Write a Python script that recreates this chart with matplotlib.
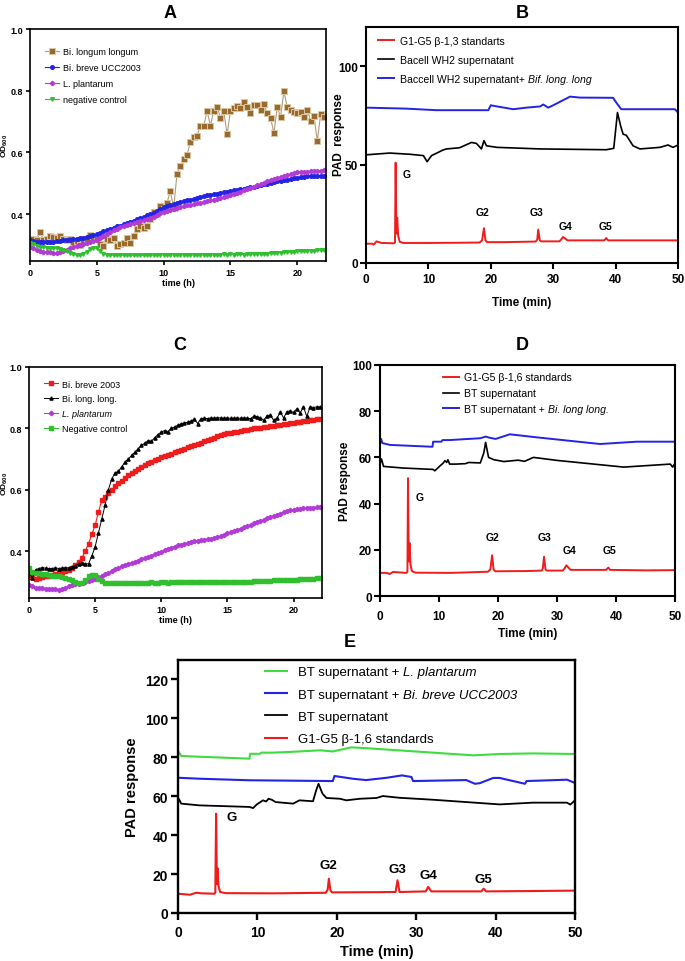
import numpy as np
import matplotlib
matplotlib.use("Agg")
import matplotlib.pyplot as plt

NARROW = ['Liberation Sans Narrow', 'Liberation Sans', 'DejaVu Sans']
ARIAL = ['Liberation Sans', 'DejaVu Sans']
plt.rcParams['font.family'] = ARIAL
plt.rcParams['mathtext.fontset'] = 'custom'
plt.rcParams['mathtext.rm'] = 'Liberation Sans'
plt.rcParams['mathtext.it'] = 'Liberation Sans:italic'
plt.rcParams['mathtext.bf'] = 'Liberation Sans:bold'

# ---------------- growth data (OD600 every 0.25 h, 0-22 h) ----------------
n_pts = 89
time_h = np.arange(n_pts) * 0.25

A_longum = [0.310, 0.318, 0.315, 0.343, 0.317, 0.320, 0.328, 0.326, 0.322, 0.330, 0.320, 0.315,
            0.320, 0.310, 0.314, 0.300, 0.310, 0.318, 0.333, 0.325, 0.318, 0.303, 0.296, 0.318,
            0.315, 0.322, 0.296, 0.303, 0.306, 0.322, 0.306, 0.328, 0.352, 0.361, 0.356, 0.363,
            0.385, 0.406, 0.400, 0.426, 0.415, 0.437, 0.474, 0.420, 0.530, 0.555, 0.578, 0.590,
            0.635, 0.650, 0.654, 0.687, 0.684, 0.735, 0.687, 0.735, 0.747, 0.713, 0.733, 0.659,
            0.733, 0.743, 0.749, 0.745, 0.763, 0.747, 0.727, 0.754, 0.754, 0.737, 0.757, 0.727,
            0.713, 0.662, 0.746, 0.716, 0.798, 0.746, 0.738, 0.730, 0.729, 0.730, 0.715, 0.739,
            0.702, 0.717, 0.637, 0.724, 0.715]
A_breve = [0.317, 0.314, 0.311, 0.310, 0.309, 0.309, 0.310, 0.311, 0.313, 0.314, 0.315, 0.316,
           0.317, 0.318, 0.320, 0.322, 0.324, 0.327, 0.329, 0.332, 0.335, 0.339, 0.344, 0.348,
           0.352, 0.356, 0.360, 0.363, 0.367, 0.371, 0.375, 0.379, 0.383, 0.387, 0.391, 0.396,
           0.400, 0.405, 0.411, 0.417, 0.422, 0.426, 0.430, 0.434, 0.437, 0.440, 0.443, 0.445,
           0.447, 0.450, 0.453, 0.456, 0.459, 0.461, 0.463, 0.464, 0.466, 0.468, 0.471, 0.473,
           0.475, 0.477, 0.479, 0.481, 0.483, 0.485, 0.487, 0.489, 0.491, 0.494, 0.497, 0.499,
           0.502, 0.504, 0.506, 0.508, 0.510, 0.512, 0.514, 0.516, 0.518, 0.520, 0.521, 0.523,
           0.524, 0.524, 0.523, 0.524, 0.524]
A_plant = [0.295, 0.290, 0.285, 0.281, 0.278, 0.277, 0.276, 0.275, 0.275, 0.276, 0.279, 0.284,
           0.289, 0.292, 0.296, 0.299, 0.303, 0.306, 0.309, 0.313, 0.317, 0.322, 0.329, 0.335,
           0.341, 0.347, 0.352, 0.357, 0.361, 0.364, 0.368, 0.371, 0.374, 0.377, 0.381, 0.384,
           0.387, 0.392, 0.397, 0.402, 0.407, 0.410, 0.414, 0.417, 0.420, 0.422, 0.425, 0.428,
           0.430, 0.432, 0.435, 0.437, 0.439, 0.442, 0.445, 0.447, 0.450, 0.453, 0.455, 0.458,
           0.461, 0.465, 0.469, 0.473, 0.477, 0.481, 0.485, 0.489, 0.493, 0.497, 0.502, 0.506,
           0.510, 0.513, 0.517, 0.520, 0.523, 0.526, 0.529, 0.532, 0.535, 0.536, 0.537, 0.538,
           0.539, 0.540, 0.541, 0.541, 0.542]
A_neg = [0.305, 0.302, 0.298, 0.295, 0.292, 0.291, 0.290, 0.290, 0.289, 0.288, 0.285, 0.280,
         0.274, 0.270, 0.267, 0.268, 0.271, 0.278, 0.287, 0.291, 0.289, 0.280, 0.272, 0.268,
         0.267, 0.267, 0.266, 0.267, 0.267, 0.268, 0.267, 0.267, 0.268, 0.266, 0.267, 0.268,
         0.268, 0.267, 0.268, 0.268, 0.269, 0.268, 0.268, 0.269, 0.268, 0.268, 0.269, 0.268,
         0.268, 0.268, 0.269, 0.269, 0.268, 0.269, 0.269, 0.268, 0.269, 0.269, 0.270, 0.269,
         0.270, 0.269, 0.270, 0.270, 0.269, 0.270, 0.270, 0.271, 0.271, 0.271, 0.272, 0.272,
         0.273, 0.274, 0.275, 0.275, 0.276, 0.277, 0.277, 0.278, 0.279, 0.279, 0.280, 0.281,
         0.282, 0.282, 0.283, 0.283, 0.284]

C_breve = [0.324, 0.316, 0.311, 0.313, 0.316, 0.318, 0.320, 0.322, 0.325, 0.328, 0.332, 0.336,
           0.340, 0.346, 0.356, 0.366, 0.378, 0.400, 0.425, 0.455, 0.485, 0.528, 0.566, 0.578,
           0.590, 0.601, 0.611, 0.621, 0.630, 0.639, 0.647, 0.655, 0.662, 0.668, 0.674, 0.680,
           0.686, 0.691, 0.696, 0.701, 0.706, 0.710, 0.714, 0.718, 0.722, 0.726, 0.730, 0.734,
           0.738, 0.742, 0.746, 0.750, 0.754, 0.758, 0.762, 0.766, 0.770, 0.774, 0.778, 0.781,
           0.784, 0.786, 0.788, 0.790, 0.792, 0.794, 0.796, 0.798, 0.800, 0.801, 0.803, 0.804,
           0.806, 0.808, 0.809, 0.811, 0.812, 0.814, 0.815, 0.817, 0.818, 0.820, 0.821, 0.823,
           0.824, 0.826, 0.828, 0.830, 0.832]
C_longum = [0.332, 0.312, 0.340, 0.344, 0.347, 0.345, 0.343, 0.344, 0.346, 0.344, 0.345, 0.347,
            0.346, 0.350, 0.352, 0.360, 0.362, 0.360, 0.359, 0.385, 0.415, 0.460, 0.505, 0.550,
            0.600, 0.635, 0.655, 0.660, 0.675, 0.690, 0.700, 0.712, 0.722, 0.734, 0.745, 0.752,
            0.760, 0.758, 0.770, 0.780, 0.788, 0.793, 0.790, 0.800, 0.805, 0.810, 0.815, 0.818,
            0.820, 0.824, 0.830, 0.816, 0.832, 0.833, 0.832, 0.834, 0.833, 0.835, 0.834, 0.833,
            0.834, 0.833, 0.833, 0.834, 0.833, 0.834, 0.833, 0.832, 0.840, 0.838, 0.835, 0.826,
            0.842, 0.843, 0.826, 0.834, 0.853, 0.834, 0.855, 0.857, 0.852, 0.864, 0.851, 0.870,
            0.839, 0.870, 0.868, 0.870, 0.870]
C_plant = [0.291, 0.286, 0.282, 0.280, 0.279, 0.278, 0.277, 0.276, 0.276, 0.275, 0.276, 0.280,
           0.286, 0.289, 0.292, 0.295, 0.298, 0.301, 0.304, 0.307, 0.311, 0.315, 0.320, 0.325,
           0.330, 0.335, 0.341, 0.346, 0.351, 0.357, 0.360, 0.362, 0.366, 0.370, 0.374, 0.378,
           0.382, 0.386, 0.391, 0.395, 0.399, 0.403, 0.407, 0.411, 0.415, 0.419, 0.422, 0.425,
           0.427, 0.430, 0.432, 0.434, 0.436, 0.437, 0.439, 0.440, 0.442, 0.445, 0.449, 0.453,
           0.458, 0.462, 0.466, 0.470, 0.474, 0.478, 0.482, 0.486, 0.491, 0.495, 0.499, 0.503,
           0.507, 0.511, 0.515, 0.519, 0.523, 0.527, 0.530, 0.533, 0.536, 0.538, 0.539, 0.540,
           0.541, 0.542, 0.542, 0.543, 0.544]
C_neg = [0.345, 0.334, 0.331, 0.329, 0.327, 0.325, 0.323, 0.321, 0.320, 0.318, 0.316, 0.314,
         0.310, 0.305, 0.300, 0.297, 0.298, 0.305, 0.318, 0.322, 0.322, 0.310, 0.302, 0.298,
         0.297, 0.296, 0.297, 0.297, 0.297, 0.298, 0.297, 0.297, 0.298, 0.297, 0.298, 0.298,
         0.298, 0.299, 0.298, 0.298, 0.299, 0.299, 0.298, 0.299, 0.299, 0.299, 0.300, 0.299,
         0.299, 0.300, 0.299, 0.299, 0.299, 0.299, 0.300, 0.299, 0.299, 0.300, 0.300, 0.300,
         0.300, 0.300, 0.300, 0.301, 0.300, 0.301, 0.301, 0.301, 0.302, 0.302, 0.302, 0.303,
         0.304, 0.304, 0.305, 0.305, 0.306, 0.306, 0.307, 0.307, 0.308, 0.308, 0.309, 0.310,
         0.310, 0.311, 0.311, 0.312, 0.313]

# ---------------- chromatograms (time min, PAD response) ----------------
B_red_t = [0, 1.0, 1.2, 1.7, 2.5, 4.5, 4.65, 4.75, 4.88, 5.0, 5.15, 5.4, 6, 10, 15, 18.2, 18.6, 18.9,
           19.15, 19.4, 22, 27.2, 27.45, 27.6, 27.85, 28.1, 31.0, 31.3, 31.55, 31.9, 32.3, 38.2,
           38.5, 38.8, 42, 50]
B_red_v = [9.8, 9.8, 9.3, 11, 10.2, 10, 10.5, 51, 15, 23, 14, 10.8, 10.2, 10.2, 10.3, 10.4, 11.5, 17.7,
           11.5, 10.6, 10.6, 10.9, 12, 17, 11.5, 11, 11, 12, 13.2, 12.5, 11.5, 11.5, 12.7, 11.5, 11.5, 11.5]
B_blk_t = [0, 3.8, 7, 9.2, 9.8, 10.5, 11.8, 12.3, 12.9, 15, 16.9, 17.7, 18.5, 18.9, 19.3, 21, 27.9,
           38.5, 39.7, 40.3, 40.8, 41.2, 41.7, 42.8, 43.9, 47.1, 48.4, 49.2, 50]
B_blk_v = [55, 55.9, 55.3, 54.6, 51.5, 54.6, 56.6, 57.4, 58, 58.6, 61.3, 60.8, 58, 62.2, 59.6, 58.8, 58,
           57.6, 58.3, 76.5, 69.8, 65.5, 65, 59.6, 58, 58.8, 60, 58.8, 60]
B_blu_t = [0, 6.4, 11.3, 19.6, 20.0, 21, 23.6, 25.7, 27.9, 28.4, 29.2, 30, 32.7, 34.3, 39.6, 40.1,
           40.9, 45, 49.5, 50]
B_blu_v = [79, 78.5, 77.7, 77.7, 80.2, 79.6, 78.2, 79, 79.6, 80.6, 79, 80.2, 84.6, 84.1, 84, 81.6,
           78.2, 78.2, 78.2, 76.5]

D_red_t = [0, 1.2, 1.6, 2.2, 4.5, 4.65, 4.75, 4.88, 5.0, 5.15, 5.4, 6, 12, 18.3, 18.7, 19.0, 19.25,
           19.5, 25, 27.4, 27.6, 27.8, 28.05, 28.3, 31.0, 31.3, 31.6, 31.9, 32.3, 38.3, 38.7, 39.0, 45, 50]
D_red_v = [10, 10, 9.5, 10.4, 10, 10.5, 51, 15, 23, 14, 10.8, 10.1, 10, 10.5, 11.5, 17.6, 11.5,
           10.7, 10.8, 11, 12, 17, 11.5, 11, 11, 12, 13.3, 12.4, 11.3, 11.3, 12.3, 11.3, 11.1, 11.2]
D_blk_t = [0, 0.25, 0.6, 3.9, 9.0, 9.3, 10.2, 10.7, 11.0, 11.3, 11.5, 11.8, 12.9, 14.5, 15.0, 17.0,
           17.6, 17.9, 18.4, 19.3, 21.0, 23.4, 24.5, 26.0, 30.0, 41.3, 49.2, 49.6, 50]
D_blk_v = [57, 59.3, 56.1, 55.4, 54.8, 54.2, 56.4, 57.5, 58.6, 57.8, 59, 57.1, 57.1, 57.3, 57.8, 57.6,
           62, 66.5, 60, 59, 58.2, 58.8, 58.3, 60, 58.7, 55.8, 57.1, 55.8, 57.5]
D_blu_t = [0, 0.2, 0.4, 1.7, 8.9, 9.0, 10.4, 10.6, 11.8, 17.0, 17.9, 18.6, 19.6, 22.0, 26.5, 37.3, 43.5, 50]
D_blu_v = [66, 68, 66.2, 65.4, 64.6, 66.8, 66.8, 67.5, 67.5, 68.3, 69, 68.5, 68, 70, 68.7, 65.8, 66.8, 66.8]

E_red_t = [0, 1.5, 2.3, 3, 4.6, 4.7, 4.8, 4.9, 4.98, 5.1, 5.3, 6, 12, 18.6, 18.85, 19.0, 19.2, 19.4,
           25, 27.4, 27.65, 27.9, 31.2, 31.5, 31.9, 38.2, 38.5, 38.8, 45, 50]
E_red_v = [9.9, 9.4, 10.4, 10.1, 9.9, 10.5, 51, 15, 23, 14, 10.8, 10.2, 10.1, 10.4, 12, 17.6, 11.5, 10.6,
           10.7, 10.8, 16.8, 10.8, 11.1, 13.4, 11.1, 11.1, 12.5, 11.1, 11.3, 11.5]
E_blk_t = [0, 0.1, 0.4, 2.7, 9.0, 9.45, 9.9, 10.7, 11.1, 11.4, 11.8, 12.3, 14.5, 15.3, 17.0, 17.4,
           17.7, 18.2, 18.7, 20.4, 21.2, 22.9, 25.0, 25.8, 27.9, 32.1, 36.3, 40.5, 44.7, 49.0, 49.4, 50]
E_blk_v = [57, 58.7, 56.2, 55.3, 54.5, 53.9, 55.7, 57.9, 57.3, 58.7, 58.2, 57, 56.2, 57.9, 57.4, 63,
           66.4, 61.3, 59.1, 58.7, 57.9, 58.7, 59.1, 60.1, 59.2, 58.2, 57, 55.8, 56.7, 56.7, 55.7, 57.9]
E_blu_t = [0, 2.7, 9.0, 19.5, 19.7, 22.0, 23.7, 26.3, 28.2, 29.4, 29.6, 36.3, 37.4, 38.0, 39.7, 40.5,
           43.7, 43.9, 49.0, 50]
E_blu_v = [69.5, 69, 68.2, 67.8, 70.4, 69, 68.3, 69.5, 70.7, 69.9, 67.8, 68.3, 66.4, 66.7, 69.4, 69.4,
           66.4, 67.8, 68.5, 66.8]
E_grn_t = [0, 0.1, 0.4, 2.7, 9.0, 9.1, 10.3, 10.5, 12.0, 15.3, 17.9, 19.5, 21.8, 23.3, 32.1, 37.2,
           40.5, 44.7, 50]
E_grn_v = [81, 82.7, 80.7, 80.3, 79.3, 81.8, 81.8, 82.4, 82.4, 83, 83.6, 83, 85.1, 84.8, 82.4, 81,
           81.7, 82, 81.7]

peak_names = ['G', 'G2', 'G3', 'G4', 'G5']
B_lab_t = [6.5, 18.7, 27.3, 32.0, 38.4]
B_lab_v = [45, 26, 26, 19, 19]
D_lab_t = [6.8, 19.1, 27.8, 32.1, 38.9]
D_lab_v = [43, 25.7, 25.7, 20, 20]
E_lab_t = [6.7, 19.0, 27.6, 31.5, 38.5]
E_lab_v = [49.3, 24.8, 22.8, 19.3, 17.3]

RED = '#f01c1c'
BLUE = '#2323e6'
GREEN = '#3fdc3f'
BROWN = '#9a6a2c'
PURPLE = '#b23ad6'
GGREEN = '#2fbf2f'

W, H = 685, 962
fig = plt.figure(figsize=(W / 100, H / 100), dpi=100)


def box(l, t, r, b):
    return [l / W, 1 - b / H, (r - l) / W, (b - t) / H]


def style_axes(ax, fs, lw=1.3, fam=ARIAL, tl=4, xpad=2):
    for s in ax.spines.values():
        s.set_linewidth(lw)
    ax.tick_params(width=lw, length=tl, labelsize=fs, pad=2)
    ax.tick_params(axis='x', pad=xpad)
    for lab in ax.get_xticklabels() + ax.get_yticklabels():
        lab.set_fontweight('bold')
        lab.set_family(fam)


italic_suffixes = []  # (legend, entry index, suffix, fontsize)

# ---------------- Panel A ----------------
axA = fig.add_axes(box(30, 30, 326, 262))
axA.plot(time_h, A_longum, color='#b09c7c', lw=0.8, marker='s', ms=5, mfc=BROWN,
         mec='#d9c6a2', mew=0.7, label='Bi. longum longum')
axA.plot(time_h, A_breve, color=BLUE, lw=0.8, marker='o', ms=2.6, mec=BLUE, label='Bi. breve UCC2003')
axA.plot(time_h, A_plant, color=PURPLE, lw=0.8, marker='P', ms=2.8, mec=PURPLE, label='L. plantarum')
axA.plot(time_h, A_neg, color=GGREEN, lw=0.8, marker='v', ms=2.6, mec=GGREEN, label='negative control')
axA.set_xlim(0, 22.15)
axA.set_ylim(0.248, 1.0)
axA.set_xticks([0, 5, 10, 15, 20])
axA.set_yticks([0.4, 0.6, 0.8, 1.0])
axA.set_yticklabels(['0.4', '0.6', '0.8', '1.0'])
style_axes(axA, 6.5, lw=1.2, fam=NARROW, tl=3)
axA.set_xlabel('time (h)', fontsize=6.5, fontweight='bold', family=NARROW, labelpad=1)
axA.set_ylabel(r'$\mathbf{OD}_{\mathbf{600}}$', fontsize=6)
axA.yaxis.set_label_coords(-0.066, 0.5)
axA.legend(loc='upper left', bbox_to_anchor=(0.035, 0.94), frameon=False,
           handlelength=1.6, handletextpad=0.45, labelspacing=0.75, borderpad=0,
           prop={'family': NARROW, 'size': 6.5})

# ---------------- Panel C ----------------
axC = fig.add_axes(box(29, 368, 322, 599))
axC.plot(time_h, C_breve, color=RED, lw=0.8, marker='s', ms=3.2, mec=RED, label='Bi. breve 2003')
axC.plot(time_h, C_longum, color='black', lw=0.7, marker='^', ms=2.3, mec='black', label='Bi. long. long.')
axC.plot(time_h, C_plant, color=PURPLE, lw=0.8, marker='P', ms=2.8, mec=PURPLE, label='L. plantarum')
axC.plot(time_h, C_neg, color=GGREEN, lw=0.8, marker='s', ms=2.3, mec=GGREEN, label='Negative control')
axC.set_xlim(0, 22.15)
axC.set_ylim(0.248, 1.0)
axC.set_xticks([0, 5, 10, 15, 20])
axC.set_yticks([0.4, 0.6, 0.8, 1.0])
axC.set_yticklabels(['0.4', '0.6', '0.8', '1.0'])
style_axes(axC, 6.5, lw=1.2, fam=NARROW, tl=3)
axC.set_xlabel('time (h)', fontsize=6.5, fontweight='bold', family=NARROW, labelpad=1)
axC.set_ylabel(r'$\mathbf{OD}_{\mathbf{600}}$', fontsize=6)
axC.yaxis.set_label_coords(-0.066, 0.5)
legC = axC.legend(loc='upper left', bbox_to_anchor=(0.035, 0.965), frameon=False,
                  handlelength=1.6, handletextpad=0.45, labelspacing=0.65, borderpad=0,
                  prop={'family': NARROW, 'size': 6.5})
legC.get_texts()[2].set_style('italic')

# ---------------- Panel B ----------------
axB = fig.add_axes(box(366, 28, 678, 264))
axB.plot(B_red_t, B_red_v, color=RED, lw=1.4, label='G1-G5 β-1,3 standarts')
axB.plot(B_blk_t, B_blk_v, color='black', lw=1.2, label='Bacell WH2 supernatant')
axB.plot(B_blu_t, B_blu_v, color=BLUE, lw=1.4, label='Baccell WH2 supernatant+ ')
axB.set_xlim(0, 50)
axB.set_ylim(0, 120)
axB.set_xticks([0, 10, 20, 30, 40, 50])
axB.set_yticks([0, 50, 100])
style_axes(axB, 8.5, lw=1.5, tl=4, xpad=3)
axB.set_xlabel('Time (min)', fontsize=8.5, fontweight='bold', labelpad=8)
axB.set_ylabel('PAD  response', fontsize=8.5, fontweight='bold')
axB.yaxis.set_label_coords(-0.066, 0.55)
legB = axB.legend(loc='upper left', bbox_to_anchor=(0.015, 0.995), frameon=False,
                  handlelength=1.5, handletextpad=0.6, labelspacing=0.85, borderpad=0.2,
                  prop={'family': NARROW, 'size': 7.6})
italic_suffixes.append((legB, 2, 'Bif. long. long', 7.6))
for name, tt, vv in zip(peak_names, B_lab_t, B_lab_v):
    axB.text(tt, vv, name, fontsize=7.5, fontweight='bold', ha='center', va='center')

# ---------------- Panel D ----------------
axD = fig.add_axes(box(380, 366, 675, 597))
axD.plot(D_red_t, D_red_v, color=RED, lw=1.4, label='G1-G5 β-1,6 standards')
axD.plot(D_blk_t, D_blk_v, color='black', lw=1.2, label='BT supernatant')
axD.plot(D_blu_t, D_blu_v, color=BLUE, lw=1.4, label='BT supernatant + ')
axD.set_xlim(0, 50)
axD.set_ylim(0, 100)
axD.set_xticks([0, 10, 20, 30, 40, 50])
axD.set_yticks([0, 20, 40, 60, 80, 100])
style_axes(axD, 8.5, lw=1.5, tl=4, xpad=6)
axD.set_xlabel('Time (min)', fontsize=8.5, fontweight='bold', labelpad=4)
axD.set_ylabel('PAD response', fontsize=8.5, fontweight='bold')
axD.yaxis.set_label_coords(-0.098, 0.5)
legD = axD.legend(loc='upper left', bbox_to_anchor=(0.19, 1.0), frameon=False,
                  handlelength=1.5, handletextpad=0.45, labelspacing=0.55, borderpad=0.2,
                  prop={'family': NARROW, 'size': 7.6})
italic_suffixes.append((legD, 2, 'Bi. long long.', 7.6))
for name, tt, vv in zip(peak_names, D_lab_t, D_lab_v):
    axD.text(tt, vv, name, fontsize=7.5, fontweight='bold', ha='center', va='center')

# ---------------- Panel E ----------------
axE = fig.add_axes(box(178, 661, 575, 914))
axE.plot(E_grn_t, E_grn_v, color=GREEN, lw=1.5, label='BT supernatant + ')
axE.plot(E_blu_t, E_blu_v, color=BLUE, lw=1.5, label='BT supernatant + ')
axE.plot(E_blk_t, E_blk_v, color='black', lw=1.3, label='BT supernatant')
axE.plot(E_red_t, E_red_v, color=RED, lw=1.5, label='G1-G5 β-1,6 standards')
axE.set_xlim(0, 50)
axE.set_ylim(0, 130)
axE.set_xticks([0, 10, 20, 30, 40, 50])
axE.set_yticks([0, 20, 40, 60, 80, 100, 120])
style_axes(axE, 10, lw=1.7, tl=5, xpad=4)
axE.set_xlabel('Time (min)', fontsize=10.5, fontweight='bold', labelpad=3)
axE.set_ylabel('PAD response', fontsize=10.5, fontweight='bold', labelpad=4)
legE = axE.legend(loc='upper left', bbox_to_anchor=(0.197, 1.012), frameon=False,
                  handlelength=1.6, handletextpad=0.85, labelspacing=0.76, borderpad=0.2,
                  prop={'family': ARIAL, 'size': 9.5})
italic_suffixes.append((legE, 0, 'L. plantarum', 9.5))
italic_suffixes.append((legE, 1, 'Bi. breve UCC2003', 9.5))
for name, tt, vv in zip(peak_names, E_lab_t, E_lab_v):
    axE.text(tt, vv, name, fontsize=9.5, fontweight='bold', ha='center', va='center')

# ---------------- Panel letters ----------------
for letter, x, y in [('A', 170, 14), ('B', 522, 14), ('C', 180, 345), ('D', 522, 345), ('E', 350, 643)]:
    fig.text(x / W, 1 - y / H, letter, fontsize=13, fontweight='bold', ha='center', va='center')

# ---------------- italic parts of legend labels ----------------
fig.canvas.draw()
renderer = fig.canvas.get_renderer()
for leg, idx, suffix, fs in italic_suffixes:
    t = leg.get_texts()[idx]
    bb = t.get_window_extent(renderer)
    x0, yb = t.get_transform().transform(t.get_position())
    fig.text(bb.x1 / fig.bbox.width, yb / fig.bbox.height, suffix, fontsize=fs,
             style='italic', ha='left', va='baseline', family=t.get_fontfamily())

fig.savefig('out.png', dpi=100)
